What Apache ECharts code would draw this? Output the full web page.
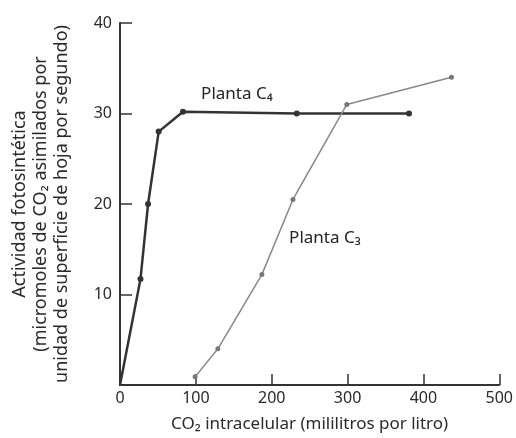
<!DOCTYPE html>
<html><head><meta charset="utf-8">
<script src="https://cdn.jsdelivr.net/npm/echarts@6/dist/echarts.min.js"></script>
<style>html,body{margin:0;padding:0;background:#fff}#c{width:516px;height:438px}</style>
</head><body><div id="c"></div>
<script>
// C4 plant: [CO2 intracelular, actividad]
const c4X = [0, 27, 37, 51, 83, 233, 381];
const c4Y = [0, 11.7, 20, 28, 30.2, 30, 30];
// C3 plant
const c3X = [99, 129, 187, 228, 299, 437];
const c3Y = [0.9, 4, 12.2, 20.5, 31, 34];
const xTicks = [0, 100, 200, 300, 400, 500];
const yTicks = [0, 10, 20, 30, 40];
const labelC4 = { x: 101, y: 32.1, text: 'Planta C₄' };
const labelC3 = { x: 217, y: 16.2, text: 'Planta C₃' };

const font = 'Noto Sans';
const txt = '#2a2a2a';
const chart = echarts.init(document.getElementById('c'));
function labelPoint(l) {
  return {
    symbol: 'circle', symbolSize: 1, silent: true,
    itemStyle: { color: 'rgba(0,0,0,0)' },
    data: [{ coord: [l.x, l.y], value: l.text,
      label: { show: true, position: 'right', distance: 4, formatter: l.text,
        fontFamily: font, fontSize: 17, color: '#222' } }]
  };
}
chart.setOption({
  animation: false,
  grid: { left: 120, right: 16, top: 23, bottom: 53 },
  xAxis: {
    type: 'value', min: xTicks[0], max: xTicks[xTicks.length - 1], interval: 100,
    name: 'CO₂ intracelular (mililitros por litro)', nameLocation: 'middle', nameGap: 31,
    nameTextStyle: { fontFamily: font, fontSize: 17, color: txt },
    axisLine: { lineStyle: { color: '#333', width: 2 } },
    axisTick: { inside: true, length: 11, lineStyle: { color: '#333', width: 1.5 } },
    axisLabel: { fontFamily: font, fontSize: 16, color: txt, margin: 5 },
    splitLine: { show: false }
  },
  yAxis: {
    type: 'value', min: yTicks[0], max: yTicks[yTicks.length - 1], interval: 10,
    name: 'Actividad fotosintética\n(micromoles de CO₂ asimilados por\nunidad de superficie de hoja por segundo)',
    nameLocation: 'middle', nameGap: 48, nameRotate: 90,
    nameTextStyle: { fontFamily: font, fontSize: 18, color: txt, lineHeight: 21, align: 'center' },
    axisLine: { show: true, lineStyle: { color: '#333', width: 2 } },
    axisTick: { show: true, inside: true, length: 12, lineStyle: { color: '#333', width: 1.5 } },
    axisLabel: { fontFamily: font, fontSize: 16, color: txt, margin: 8, showMinLabel: false },
    splitLine: { show: false }
  },
  series: [
    {
      type: 'line', name: 'C4',
      data: c4X.map((x, i) => ({ value: [x, c4Y[i]], symbol: i === 0 ? 'none' : 'circle' })),
      symbolSize: 6, showAllSymbol: true,
      lineStyle: { color: '#333', width: 2.5 },
      itemStyle: { color: '#333' },
      markPoint: labelPoint(labelC4)
    },
    {
      type: 'line', name: 'C3',
      data: c3X.map((x, i) => [x, c3Y[i]]),
      symbol: 'circle', symbolSize: 5, showAllSymbol: true,
      lineStyle: { color: '#888', width: 1.5 },
      itemStyle: { color: '#777' },
      markPoint: labelPoint(labelC3)
    }
  ]
});
</script></body></html>
